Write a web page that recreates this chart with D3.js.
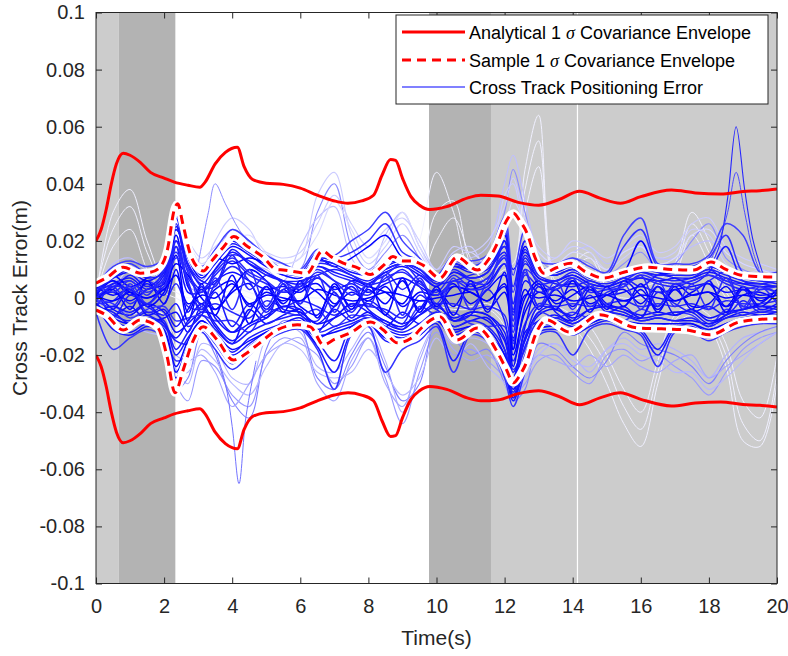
<!DOCTYPE html>
<html><head><meta charset="utf-8">
<script src="https://cdn.jsdelivr.net/npm/d3@7"></script>
<style>
body{margin:0;background:#fff}
text{font-family:"Liberation Sans",Arial,Helvetica,sans-serif}
</style>
</head><body>
<svg id="chart" width="788" height="656"></svg>
<script>
// ---------- DATA ----------
const xTicks = [0,2,4,6,8,10,12,14,16,18,20];
const yTicks = [-0.1,-0.08,-0.06,-0.04,-0.02,0,0.02,0.04,0.06,0.08,0.1];
const yTickLabels = ["-0.1","-0.08","-0.06","-0.04","-0.02","0","0.02","0.04","0.06","0.08","0.1"];
const xLabel = "Time(s)";
const yLabel = "Cross Track Error(m)";

// background shading bands (time start, time end, shade)
const bandStart = [0, 0.67, 9.78, 11.6];
const bandEnd   = [0.67, 2.33, 11.6, 20];
const bandShade = ["light","dark","dark","light"];
const markerTime = [14.14];

// analytical 1-sigma envelope (mm)
const anaT = [0,0.15,0.3,0.45,0.6,0.8,1.0,1.3,1.6,2.0,2.3,2.7,3.05,3.2,3.5,3.8,4.15,4.35,4.6,5.0,5.5,6.0,6.5,7.0,7.4,7.8,8.15,8.4,8.65,8.8,9.0,9.25,9.5,9.8,10.3,10.9,11.3,11.8,12.4,13.0,13.6,14.2,14.8,15.4,16.0,16.9,17.6,18.35,19.0,19.5,20];
const anaUp = [20,24,31,40,47,50.7,50,47.5,44,42,40.6,39.5,38.8,40.5,47,51,52.8,46,41.5,40.2,39.8,38.5,36,34,33.2,34,36,43,48.5,48.2,42,35.5,32.5,31,32,35,36,35.7,33.5,32.5,34.5,37.4,35,33.2,35.5,37.8,36.8,36.4,37.3,37.6,38.2];
const anaLo = [-20,-24,-31,-40,-47,-50.7,-50,-47.5,-44,-42,-40.6,-39.5,-38.8,-40.5,-47,-51,-52.8,-46,-41.5,-40.2,-39.8,-38.5,-36,-34,-33.2,-34,-36,-43,-48.5,-48.2,-42,-35.5,-32.5,-31,-32,-35,-36,-35.7,-33.5,-32.5,-34.5,-37.4,-35,-33.2,-35.5,-37.8,-36.8,-36.4,-37.3,-37.6,-38.2];

// sample 1-sigma envelope (mm)
const smpUpT = [0,0.3,0.8,1.3,1.6,1.88,2.1,2.3,2.4,2.55,2.76,3.0,3.15,3.4,3.74,4.05,4.4,4.91,5.3,5.5,6.2,6.65,6.9,7.26,7.7,8.05,8.45,8.72,9.0,9.28,9.6,10.1,10.6,11.2,11.5,11.79,12.05,12.26,12.45,12.66,12.9,13.15,13.5,13.94,14.4,14.91,15.5,16.2,16.9,17.56,18.06,18.5,18.94,19.5,20];
const smpUp = [5.2,7,10.8,8.7,9,10.8,17,31,33,26,15.7,10.5,9.5,13,17.8,21.5,18.5,14.3,10,9.8,8.7,16.5,14.5,12.2,10.5,8.2,11.5,14.5,13,13,11.5,7,14.3,9.8,13,19.2,27,29.7,27,22.7,14,8.7,10.5,12.2,9,7,9,10.8,10,9.8,12.6,10,8,7.5,7.3];
const smpLoT = [0,0.3,0.8,1.3,1.8,2.09,2.32,2.56,2.85,3.15,3.56,4.03,4.4,4.74,5.32,5.91,6.3,6.68,7.0,7.47,8.06,8.44,8.85,9.32,9.5,10.1,10.6,11.2,11.8,12.05,12.26,12.45,12.66,12.9,13.24,13.9,14.8,15.9,16.6,17.35,18.03,18.9,19.9,20];
const smpLo = [-4.2,-6,-11.2,-7.7,-10.1,-20.6,-33.2,-25.2,-15,-10.1,-14.7,-21.7,-19.5,-16.4,-11.2,-9.4,-10.1,-16.4,-14.5,-12.2,-8.4,-11.2,-15.7,-13.6,-11.2,-6.6,-14.7,-10.5,-19.2,-25,-29.7,-27,-22,-13,-7.7,-11.9,-5.9,-10.5,-10.8,-11.2,-12.9,-8.4,-7.3,-7.3];

// Monte Carlo cross-track error runs (mm) sampled at runT
const runT = [0,0.5,1,1.5,2,2.35,2.7,3.1,3.5,4,4.5,5,5.5,6,6.5,7,7.5,8,8.5,9,9.5,10,10.5,11,11.5,12,12.25,12.6,13,13.5,14,14.5,15,15.5,16,16.5,17,17.5,18,18.5,19,19.5,20];
const d01 = [3,7,9,6,10,30,14,7,12,18,15,11,8,7,13,12,9,8,11,13,10,6,11,9,11,18,10,16,9,8,10,7,6,8,9,8,9,9,11,9,7,6,6];
const d02 = [-3,-8,-10,-7,-9,-20,-14,-8,-13,-19,-14,-11,-9,-8,-14,-11,-9,-7,-12,-14,-11,-7,-12,-10,-12,-22,-33,-20,-10,-9,-11,-8,-6,-8,-10,-9,-10,-9,-12,-9,-7,-7,-6];
const d03 = [1,2,-1,3,5,22,4,-2,3,6,-3,2,-1,3,5,-2,2,-1,4,-3,2,1,5,-2,3,8,-20,-5,2,-1,3,-2,1,3,-2,4,-1,2,5,-3,1,2,-1];
const d04 = [-1,4,6,2,7,26,9,3,8,13,8,5,2,4,9,6,3,1,7,9,5,2,8,4,7,14,-12,8,4,3,6,2,3,5,7,5,4,6,8,5,3,4,2];
const d05 = [2,-4,-6,-2,-5,-12,-9,-5,-6,-12,-9,-6,-3,-5,-9,-7,-4,-2,-6,-9,-6,-3,-7,-5,-6,-14,-28,-15,-6,-4,-7,-4,-3,-4,-6,-5,-6,-4,-7,-5,-4,-3,-4];
const d06 = [0,10,12,9,13,32,18,10,15,21,18,14,10,9,16,14,16,20,26,16,13,7,13,11,14,25,2,20,11,10,13,9,8,18,24,11,10,11,14,22,9,8,8];
const d07 = [-2,-11,-13,-10,-12,-28,-18,-11,-16,-23,-18,-14,-11,-10,-17,-26,-12,-9,-15,-16,-13,-9,-22,-12,-14,-26,-36,-24,-12,-11,-13,-10,-8,-10,-12,-20,-11,-12,-14,-11,-9,-8,-8];
const d08 = [4,1,3,-3,2,15,-5,4,-4,2,5,-4,3,-3,-6,4,-3,3,-2,6,-4,3,-3,5,-4,2,-15,3,-4,3,-3,4,-2,-3,3,-4,3,-3,-2,4,-3,-2,3];
const d09 = [-4,5,3,6,3,20,6,-5,10,15,3,8,5,-2,11,8,6,4,9,3,8,4,9,6,5,20,-8,13,5,6,8,5,4,6,9,7,6,7,10,6,5,5,4];
const d10 = [3,-6,-3,-8,-7,-5,-12,-3,-10,-16,-4,-9,-6,-4,-12,-4,-8,-5,-10,-5,-9,-5,-10,-8,-7,-18,-31,-12,-8,-6,-9,-6,-5,-6,-8,-7,-8,-8,-9,-7,-5,-6,-5];
const d11 = [0,3,8,4,9,28,12,6,5,17,12,8,6,6,8,10,8,6,10,12,9,5,6,8,10,16,-5,12,7,5,4,6,4,7,4,8,7,5,9,18,6,5,6];
const d12 = [-1,-2,-7,-4,-3,-8,-7,-6,-8,-8,-12,-4,-5,-6,-4,-10,-6,-7,-8,-11,-3,-6,-5,-9,-10,-10,-25,-18,-5,-7,-5,-7,-6,-8,-4,-6,-5,-6,-10,-4,-6,-4,-5];
const d13 = [5,8,4,7,11,24,16,8,14,12,14,12,9,8,14,11,14,18,22,14,11,6,12,10,12,22,-2,18,10,9,11,8,6,9,20,9,9,10,13,10,8,7,7];
const d14 = [-3,-5,-9,-6,-10,-15,-16,-9,-14,-20,-16,-12,-10,-9,-15,-22,-10,-8,-13,-15,-12,-8,-13,-11,-13,-20,-34,-22,-11,-10,-12,-9,-7,-9,-11,-18,-10,-11,-13,-10,-8,-7,-7];
const d15 = [2,6,1,5,1,18,2,2,6,9,6,3,4,2,7,3,5,2,5,7,4,1,4,3,5,12,-18,6,2,4,5,3,1,2,4,2,3,4,5,2,3,1,2];
const d16 = [-2,-1,4,-5,-2,5,-3,-4,-2,-5,-7,-1,-3,-1,-3,-6,-2,-3,-4,-7,-1,-2,-2,-4,-3,-6,-22,-9,-2,-3,-2,-3,-2,-1,-3,-2,-3,-2,-4,-1,-2,-2,-1];
const d17 = [4,11,13,11,14,34,20,11,17,24,20,15,12,10,17,15,20,24,30,20,14,8,15,13,15,28,8,24,13,12,14,11,9,22,28,12,12,12,15,26,22,9,9];
const d18 = [-5,-18,-14,-11,-14,-22,-20,-12,-18,-25,-20,-15,-12,-11,-18,-32,-13,-10,-26,-18,-15,-10,-26,-13,-15,-28,-38,-26,-13,-12,-20,-11,-9,-11,-13,-24,-12,-12,-15,-12,-10,-9,-9];
const d19 = [1,6,2,0,4,12,8,0,-4,3,10,6,-2,5,2,-3,6,4,2,-2,6,-3,4,2,-1,4,-14,0,6,-2,1,4,-4,6,1,-3,5,1,2,-3,4,-1,3];
const d20 = [-3,-7,1,-3,-6,-2,-10,-6,2,-10,-2,-7,5,-6,-8,2,-7,-1,-5,-9,1,-4,-8,-6,3,-8,-26,-14,-3,-4,-6,1,-5,-3,-7,2,-2,-5,-3,-6,-1,-5,-3];
const d21 = [2,5,7,3,8,25,11,5,10,16,12,9,6,5,11,9,7,5,9,11,8,4,9,7,9,20,-6,14,7,6,8,5,4,6,7,6,7,7,9,7,5,4,4];
const d22 = [-2,-6,-8,-5,-8,-18,-12,-6,-11,-16,-12,-9,-7,-6,-12,-10,-8,-6,-10,-12,-9,-5,-10,-8,-10,-18,-30,-17,-8,-7,-9,-6,-5,-6,-8,-7,-8,-7,-10,-7,-6,-5,-5];
const d23 = [0,3,-4,6,-2,10,-8,5,-6,8,-9,4,-5,6,-7,5,-4,5,-6,7,-5,4,-6,6,-5,9,-24,-3,5,-4,6,-5,4,-3,5,-5,4,-4,6,-5,4,-3,2];
const d24 = [-1,-3,5,-2,4,14,10,-3,7,-4,10,-3,6,-2,8,-5,6,-3,8,-6,7,-2,7,-4,6,15,-16,10,-3,6,-4,5,-3,5,-4,6,-3,5,-4,7,-3,4,-2];
const d25 = [4,9,11,8,12,29,16,9,14,20,16,13,10,8,14,13,11,9,13,14,12,7,12,10,12,23,4,20,10,9,12,8,7,9,11,10,9,10,12,10,8,7,7];
const d26 = [-4,-9,-12,-9,-12,-26,-17,-10,-15,-22,-17,-13,-10,-9,-16,-14,-11,-9,-14,-16,-13,-8,-14,-11,-13,-24,-35,-23,-11,-10,-12,-9,-7,-9,-11,-10,-11,-10,-13,-10,-8,-7,-7];
const d27 = [1,-1,2,0,3,8,-2,1,0,5,-2,1,0,-1,3,1,-1,0,2,1,-1,0,1,2,-1,5,-18,1,0,1,-1,0,1,-1,1,0,-1,1,2,0,1,0,1];
const d28 = [3,4,-2,3,6,18,5,-4,5,11,6,-5,3,4,7,2,-5,4,6,10,4,-4,6,3,4,12,-10,9,-3,4,7,-3,2,4,8,-3,5,3,6,9,-4,3,2];
const d29 = [-3,-4,3,-6,-4,-10,-4,3,-7,-12,-5,4,-4,-5,-9,-3,4,-4,-8,-10,-4,3,-8,-5,-6,-12,-28,-10,4,-5,-8,3,-3,-5,-7,4,-6,-4,-8,-6,3,-4,-2];
const d30 = [2,7,10,7,9,24,15,8,13,19,16,12,9,8,13,12,10,8,12,13,11,6,11,10,11,20,-4,17,9,8,10,7,6,8,10,9,9,9,11,9,7,6,5];
const d31 = [-2,-7,-9,-7,-11,-24,-15,-8,-12,-18,-15,-12,-9,-7,-13,-12,-10,-8,-11,-13,-11,-6,-11,-10,-11,-20,-32,-21,-9,-8,-10,-8,-6,-8,-9,-9,-9,-9,-11,-9,-7,-6,-6];
const d32 = [5,2,6,1,10,16,7,2,9,14,9,6,2,5,10,6,1,5,8,12,6,1,6,5,7,14,-8,10,6,3,7,4,3,4,8,6,5,6,8,6,4,3,4];
const d33 = [-5,-3,-5,-2,-9,-14,-8,-2,-9,-15,-10,-7,-3,-4,-11,-7,-2,-5,-9,-11,-6,-2,-8,-6,-8,-15,-30,-14,-5,-3,-8,-4,-3,-4,-7,-6,-5,-5,-9,-6,-4,-3,-3];
const d34 = [0,4,3,-2,6,20,12,4,4,15,13,9,6,3,12,11,8,5,10,12,10,5,10,7,9,18,-2,15,8,6,9,6,5,7,9,8,8,8,10,8,6,5,4];
const l01 = [0,5,8,5,8,20,10,6,14,24,20,12,8,10,30,40,18,10,16,22,14,6,12,12,14,30,45,30,14,10,14,12,8,12,16,10,12,20,26,14,10,8,6];
const l02 = [-2,-6,-8,-5,-10,-25,-30,-16,-18,-28,-30,-14,-10,-12,-24,-26,-18,-10,-22,-40,-20,-10,-16,-14,-16,-24,-30,-28,-18,-16,-20,-26,-18,-14,-18,-16,-18,-22,-28,-20,-14,-12,-10];
const l03 = [2,8,4,9,6,16,8,10,20,28,24,14,12,14,36,44,22,12,18,26,16,8,16,18,10,36,40,22,12,14,18,16,10,14,18,14,16,24,22,12,8,10,8];
const l04 = [-4,-10,-12,-9,-14,-30,-36,-22,-24,-34,-38,-20,-14,-16,-20,-30,-24,-14,-28,-44,-26,-12,-20,-18,-22,-28,-34,-30,-22,-20,-26,-30,-20,-18,-22,-20,-24,-28,-34,-26,-18,-14,-12];
const l05 = [3,12,14,10,12,8,4,2,8,16,12,10,6,18,28,32,14,8,22,30,18,10,14,14,18,40,50,34,16,12,16,18,12,16,20,14,14,18,20,16,12,10,9];
const l06 = [-1,-3,-6,-10,-8,-32,-28,-12,-20,-36,-42,-18,-8,-10,-28,-32,-20,-12,-24,-36,-30,-8,-14,-20,-18,-30,-36,-32,-16,-18,-24,-28,-22,-12,-16,-18,-20,-24,-30,-22,-16,-12,-10];
const l07 = [1,4,10,6,10,14,18,12,16,20,22,16,12,14,22,34,24,14,20,30,18,8,14,16,12,24,34,26,16,12,16,14,10,16,18,12,14,22,24,16,12,10,8];
const l08 = [-3,-8,-14,-8,-12,-20,-22,-20,-26,-38,-30,-20,-16,-14,-30,-36,-22,-14,-30,-38,-22,-10,-18,-22,-20,-26,-32,-26,-20,-22,-24,-20,-24,-20,-24,-26,-22,-20,-28,-24,-20,-16,-12];
const l09 = [2,6,12,8,12,24,20,14,18,22,18,16,14,16,26,36,26,18,24,28,20,10,18,16,20,32,42,28,18,14,20,18,14,18,22,16,18,26,28,18,14,12,10];
const l10 = [-2,-6,-10,-12,-14,-26,-26,-18,-22,-30,-34,-24,-16,-18,-26,-28,-26,-18,-26,-34,-28,-14,-22,-16,-24,-30,-38,-28,-20,-16,-22,-24,-18,-16,-20,-22,-26,-26,-32,-28,-22,-16,-12];
const w01 = [0,30,38,20,6,4,2,4,6,6,4,2,2,3,4,4,3,2,4,6,20,44,30,10,10,12,12,45,64,8,12,16,6,4,4,6,12,30,20,4,-2,-4,-2];
const w02 = [0,-4,-6,-4,-6,-20,-28,-10,-6,-8,-6,-4,-4,-4,-6,-6,-4,-4,-6,-8,-6,-4,-6,-6,-4,-10,-28,-20,-8,-6,-10,-18,-30,-44,-52,-30,-10,-6,-10,-24,-50,-52,-30];
const w03 = [2,24,32,16,4,2,0,2,4,4,2,0,0,2,2,2,2,0,2,4,10,30,34,12,6,10,10,38,55,6,10,14,4,2,2,4,10,26,16,2,-4,-6,-4];
const w04 = [-1,-2,-4,-3,-5,-18,-24,-8,-4,-6,-4,-3,-3,-3,-4,-4,-3,-3,-4,-6,-4,-3,-4,-4,-3,-8,-24,-16,-6,-4,-8,-14,-24,-38,-46,-26,-8,-4,-8,-20,-44,-50,-26];
const w05 = [1,18,24,10,2,0,-2,0,2,2,0,-2,-2,0,0,0,0,-2,0,2,6,20,28,14,4,8,8,30,46,4,8,12,2,0,0,2,8,22,12,0,-6,-8,-6];
const w06 = [-2,-3,-5,-4,-6,-14,-20,-6,-3,-5,-3,-2,-2,-2,-3,-3,-2,-2,-3,-5,-3,-2,-3,-3,-2,-6,-20,-12,-4,-3,-6,-10,-20,-32,-40,-22,-6,-3,-6,-16,-36,-42,-20];

// short excursions (own time bases, mm)
const spikeT = [18.0,18.3,18.55,18.8,19.05,19.3,19.6];
const spikeA = [10,18,35,60,38,20,8];
const spikeB = [12,20,30,44,30,16,6];
const dipT = [3.5,3.8,4.0,4.2,4.4,4.7];
const dipA = [-18,-30,-45,-65,-42,-22];
const arcT = [3.0,3.3,3.5,3.8,4.2,4.6,5.0,5.4];
const arcA = [12,30,40,33,24,18,14,10];

const legendLabels = ["Analytical 1 ","Sample 1 ","Cross Track Positioning Error"];

// ---------- STYLE ----------
const whiteRuns = [w01,w02,w03,w04,w05,w06];
const lightRuns = [l01,l02,l03,l04,l05,l06,l07,l08,l09,l10];
const darkRuns = [d01,d02,d03,d04,d05,d06,d07,d08,d09,d10,d11,d12,d13,d14,d15,d16,d17,d18,d19,d20,
                  d21,d22,d23,d24,d25,d26,d27,d28,d29,d30,d31,d32,d33,d34];
const lightMix = [0.55,0.7,0.8,0.6,0.75,0.5,0.85,0.65,0.8,0.72];
const darkMix = [0.05,0.1,0,0.15,0.05,0.2,0.1,0,0.15,0.05,0.1,0.2,0,0.1,0.05,0.15,0.25,0.2,0,0.1,
                 0.08,0.12,0.02,0.18,0.1,0.05,0,0.14,0.06,0.1,0.03,0.16,0.08,0.12];
const mix = f => d3.rgb(Math.round(255*f),Math.round(255*f),255).toString();

const L=96, R=777, T=12.5, B=583.5;
const svg = d3.select("#chart");
const x = d3.scaleLinear().domain([0,20]).range([L,R]);
const y = d3.scaleLinear().domain([-0.1,0.1]).range([B,T]);

svg.append("rect").attr("width",788).attr("height",656).attr("fill","#fff");
svg.append("defs").append("clipPath").attr("id","clip")
  .append("rect").attr("x",L).attr("y",T).attr("width",R-L).attr("height",B-T);

const bg = svg.append("g");
bandStart.forEach((s,i)=>{
  bg.append("rect").attr("x",x(s)).attr("y",T).attr("width",x(bandEnd[i])-x(s)).attr("height",B-T)
    .attr("fill", bandShade[i]==="dark" ? "#b3b3b3" : "#cccccc");
});
markerTime.forEach(t=>{
  bg.append("line").attr("x1",x(t)).attr("x2",x(t)).attr("y1",T).attr("y2",B)
    .attr("stroke","#fff").attr("stroke-width",1.2);
});

const plot = svg.append("g").attr("clip-path","url(#clip)");
const runLine = (ts) => d3.line().x((d,i)=>x(ts[i])).y(d=>y(d/1000)).curve(d3.curveCatmullRom.alpha(0.5));

whiteRuns.forEach(s=>{
  plot.append("path").attr("d",runLine(runT)(s)).attr("fill","none")
    .attr("stroke","#f0f0ff").attr("stroke-width",1);
});
lightRuns.forEach((s,i)=>{
  plot.append("path").attr("d",runLine(runT)(s)).attr("fill","none")
    .attr("stroke",mix(lightMix[i])).attr("stroke-width",1.1);
});
plot.append("path").attr("d",runLine(arcT)(arcA)).attr("fill","none").attr("stroke",mix(0.55)).attr("stroke-width",1);
plot.append("path").attr("d",runLine(dipT)(dipA)).attr("fill","none").attr("stroke",mix(0.45)).attr("stroke-width",1);
darkRuns.forEach((s,i)=>{
  plot.append("path").attr("d",runLine(runT)(s)).attr("fill","none")
    .attr("stroke",mix(darkMix[i])).attr("stroke-width",1.5).attr("stroke-linejoin","round");
});
plot.append("path").attr("d",runLine(spikeT)(spikeB)).attr("fill","none").attr("stroke",mix(0.3)).attr("stroke-width",1);
plot.append("path").attr("d",runLine(spikeT)(spikeA)).attr("fill","none").attr("stroke",mix(0.15)).attr("stroke-width",1.1);

// envelopes
const envLine = (ts) => d3.line().x((d,i)=>x(ts[i])).y(d=>y(d/1000)).curve(d3.curveMonotoneX);
[[smpUpT,smpUp],[smpLoT,smpLo]].forEach(([ts,vs])=>{
  plot.append("path").attr("d",envLine(ts)(vs)).attr("fill","none")
    .attr("stroke","#fff").attr("stroke-width",8).attr("stroke-linejoin","round").attr("stroke-linecap","round");
});
[[smpUpT,smpUp],[smpLoT,smpLo]].forEach(([ts,vs])=>{
  plot.append("path").attr("d",envLine(ts)(vs)).attr("fill","none")
    .attr("stroke","#ff0000").attr("stroke-width",3).attr("stroke-dasharray","9,6");
});
[[anaT,anaUp],[anaT,anaLo]].forEach(([ts,vs])=>{
  plot.append("path").attr("d",envLine(ts)(vs)).attr("fill","none")
    .attr("stroke","#ff0000").attr("stroke-width",3).attr("stroke-linejoin","round");
});

// axes
const axColor = "#262626";
const gx = svg.append("g").attr("transform",`translate(0,${B})`)
  .call(d3.axisBottom(x).tickValues(xTicks).tickSize(-6).tickPadding(15).tickFormat(d=>d));
const gx2 = svg.append("g").attr("transform",`translate(0,${T})`)
  .call(d3.axisTop(x).tickValues(xTicks).tickSize(-6).tickFormat(""));
const gy = svg.append("g").attr("transform",`translate(${L},0)`)
  .call(d3.axisLeft(y).tickValues(yTicks).tickSize(-6).tickPadding(11).tickFormat((d,i)=>yTickLabels[i]));
const gy2 = svg.append("g").attr("transform",`translate(${R},0)`)
  .call(d3.axisRight(y).tickValues(yTicks).tickSize(-6).tickFormat(""));
[gx,gx2,gy,gy2].forEach(g=>{
  g.select(".domain").remove();
  g.selectAll(".tick line").attr("stroke",axColor).attr("stroke-width",1);
  g.selectAll("text").attr("fill",axColor).style("font-size","20px").style("font-family","'Liberation Sans',Arial,sans-serif");
});
svg.append("rect").attr("x",L).attr("y",T).attr("width",R-L).attr("height",B-T)
  .attr("fill","none").attr("stroke",axColor).attr("stroke-width",1);

svg.append("text").attr("x",(L+R)/2).attr("y",645).attr("text-anchor","middle")
  .attr("fill",axColor).style("font-size","21px").text(xLabel);
svg.append("text").attr("transform",`translate(27,${(T+B)/2}) rotate(-90)`).attr("text-anchor","middle")
  .attr("fill",axColor).style("font-size","21px").text(yLabel);

// legend
const lg = svg.append("g");
lg.append("rect").attr("x",396).attr("y",15).attr("width",372).attr("height",89)
  .attr("fill","#fff").attr("stroke",axColor).attr("stroke-width",1);
const rowsY = [32,60,87];
lg.append("line").attr("x1",402).attr("x2",465).attr("y1",rowsY[0]).attr("y2",rowsY[0])
  .attr("stroke","#ff0000").attr("stroke-width",3);
lg.append("line").attr("x1",402).attr("x2",465).attr("y1",rowsY[1]).attr("y2",rowsY[1])
  .attr("stroke","#ff0000").attr("stroke-width",3).attr("stroke-dasharray","9,6");
lg.append("line").attr("x1",402).attr("x2",465).attr("y1",rowsY[2]).attr("y2",rowsY[2])
  .attr("stroke","#8080ff").attr("stroke-width",2);
legendLabels.forEach((lab,i)=>{
  const t = lg.append("text").attr("x",469).attr("y",rowsY[i]+6.5).attr("fill","#000").style("font-size","18px");
  t.append("tspan").text(lab);
  if(i<2){
    t.append("tspan").style("font-family","'Liberation Serif','DejaVu Serif',serif").style("font-style","italic").text("σ");
    t.append("tspan").text(" Covariance Envelope");
  }
});
</script>
</body></html>
